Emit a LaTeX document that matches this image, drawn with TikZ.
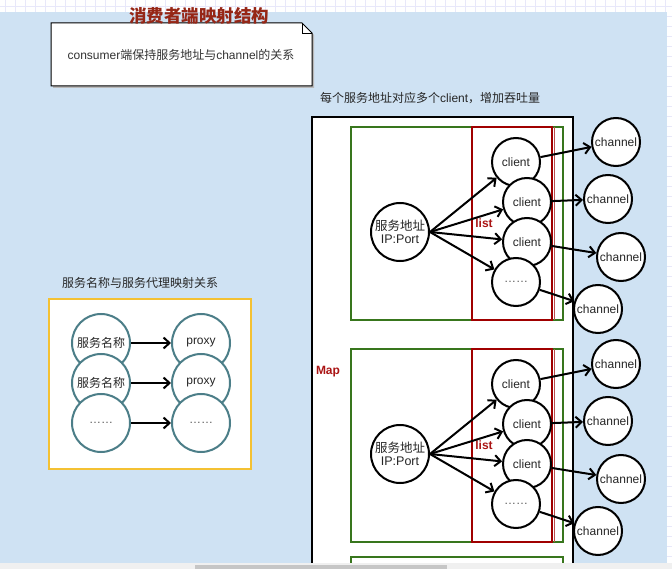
\documentclass[tikz,border=0pt]{standalone}
\usepackage{fontspec}
\setmainfont{Liberation Sans}
\newfontfamily\cjk{Noto Sans CJK SC}
\usetikzlibrary{arrows.meta}
\definecolor{bgblue}{RGB}{207,226,243}
\definecolor{gridc}{RGB}{232,232,250}
\definecolor{titlered}{RGB}{150,38,22}
\definecolor{labred}{RGB}{170,20,20}
\definecolor{boxred}{RGB}{160,0,0}
\definecolor{boxgreen}{RGB}{56,118,29}
\definecolor{tealc}{RGB}{76,126,136}
\definecolor{yel}{RGB}{244,193,50}
\definecolor{dotgray}{RGB}{90,90,90}
\begin{document}
\begin{tikzpicture}[x=1pt,y=-1pt,
  circ/.style={circle, draw=black, line width=2pt, fill=white, minimum size=48pt, inner sep=0pt, font=\fontsize{12}{13}\selectfont, text=black!85},
  bigcirc/.style={circ, minimum size=58pt, align=center, font=\fontsize{12.5}{13.5}\selectfont},
  tcirc/.style={circle, draw=tealc, line width=2pt, fill=white, minimum size=58pt, inner sep=0pt, font=\fontsize{12}{13}\selectfont, text=black!85},
  arr/.style={line width=2pt, -{Straight Barb[length=6pt,width=11pt,line width=2pt]}},
  caption/.style={anchor=west, inner sep=0pt, font=\fontsize{12}{14}\selectfont, text=black!85},
  redlab/.style={inner sep=0pt, text=labred, font=\fontsize{12}{13}\selectfont\bfseries}
]
\useasboundingbox (0,0) rectangle (672,569);
% canvas background
\fill[white] (0,0) rectangle (672,569);
\foreach \x in {5,15,...,672} \draw[gridc, line width=0.6pt] (\x,0) -- (\x,12);
\draw[gridc, line width=0.6pt] (0,6) -- (672,6);
\foreach \y in {16,26,...,562} \draw[gridc, line width=0.6pt] (667,\y) -- (672,\y);
\fill[bgblue] (0,12) rectangle (667,563);

% title and note
\fill[gray!55] (53,25) -- (304,25) -- (314,35) -- (314,88) -- (53,88) -- cycle;
\draw[line width=1pt, fill=white] (51,23) -- (302,23) -- (312,33) -- (312,86) -- (51,86) -- cycle;
\draw[line width=0.8pt] (302,23) -- (302,33) -- (312,33);
\node[inner sep=0pt, font=\fontsize{12}{14}\selectfont, text=black!80] (note) at (181,55) {consumer{\cjk 端保持服务地址与}channel{\cjk 的关系}};
\node[inner sep=0pt, text=titlered, font=\cjk\fontsize{17.5}{19}\selectfont\bfseries] (title) at (199,16) {消费者端映射结构};

% captions
\node[caption] (cap1) at (320,98) {{\cjk 每个服务地址对应多个}client{\cjk ，增加吞吐量}};
\node[caption] (cap2) at (62,283) {\cjk 服务名称与服务代理映射关系};

% big map box
\draw[line width=2pt, fill=white] (312,565) -- (312,117) -- (573,117) -- (573,565);
\node[redlab] (map) at (328,372) {Map};
\draw[boxgreen, line width=2pt] (351,557) rectangle (563,575);

\foreach \g/\dy in {1/0,2/222} {
  \draw[boxgreen, line width=2pt] (351,127+\dy) rectangle (563,320+\dy);
  \draw[boxred!70, line width=1pt] (554,127+\dy) -- (554,320+\dy);
  \draw[boxred, line width=2pt] (472,127+\dy) rectangle (552,320+\dy);
  \node[redlab] (list\g) at (484,223+\dy) {list};
  \node[bigcirc] (s\g) at (400,232+\dy) {{\cjk 服务地址}\\IP:Port};
  \node[circ] (c\g1) at (516,162+\dy) {client};
  \node[circ] (c\g2) at (527,202+\dy) {client};
  \node[circ] (c\g3) at (527,242+\dy) {client};
  \node[circ, text=dotgray] (c\g4) at (516,282+\dy) {……};
  \node[circ] (h\g1) at (616,142+\dy) {channel};
  \node[circ] (h\g2) at (608,199+\dy) {channel};
  \node[circ] (h\g3) at (621,257+\dy) {channel};
  \node[circ] (h\g4) at (598,309+\dy) {channel};
  \foreach \k in {1,...,4} {
    \draw[arr] (s\g.east) -- (c\g\k);
    \draw[arr] (c\g\k) -- (h\g\k);
  }
}

% scrollbar
\fill[gray!12] (0,563) rectangle (672,569);
\fill[gray!45] (195,564.5) rectangle (447,569);

% left panel
\draw[yel, line width=2pt, fill=white] (49,299) rectangle (251,469);
\node[tcirc] (n1) at (101,343) {\cjk 服务名称};
\node[tcirc] (p1) at (201,343) {proxy};
\node[tcirc] (n2) at (101,383) {\cjk 服务名称};
\node[tcirc] (p2) at (201,383) {proxy};
\node[tcirc, text=dotgray] (n3) at (101,423) {……};
\node[tcirc, text=dotgray] (p3) at (201,423) {……};
\foreach \k in {1,2,3} \draw[arr] (n\k) -- (p\k);
\end{tikzpicture}
\end{document}
